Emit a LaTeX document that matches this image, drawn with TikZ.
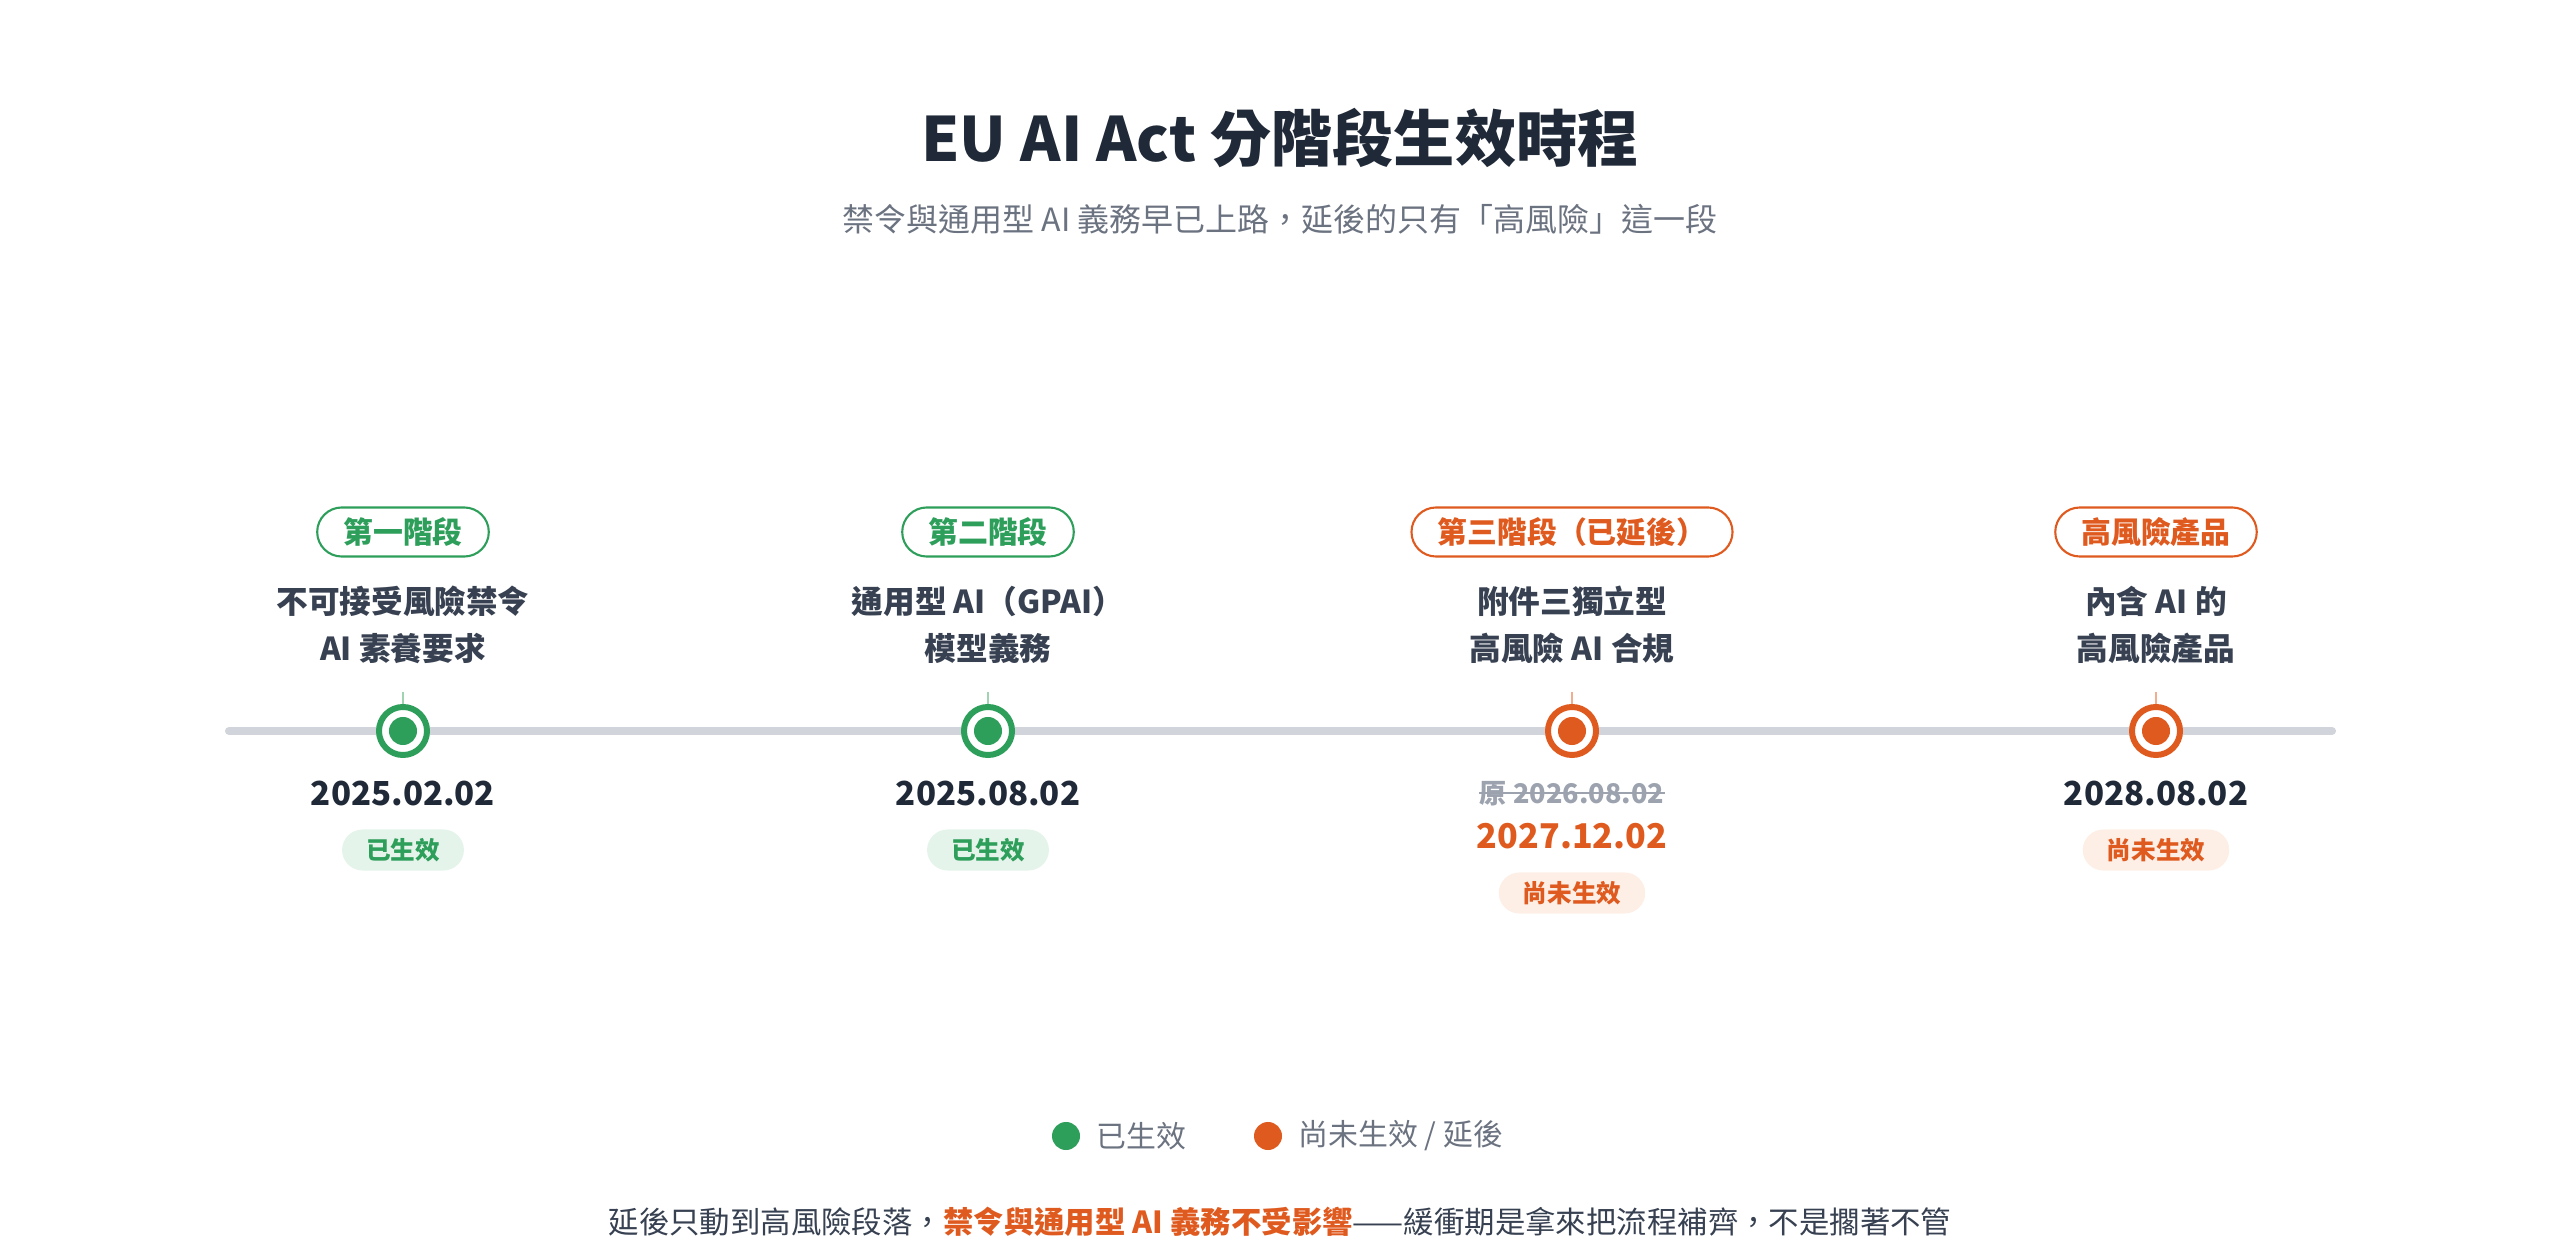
\documentclass[tikz,border=0pt]{standalone}
\usepackage{fontspec}
\setmainfont{Noto Sans CJK TC}
\usepackage{xcolor}

\definecolor{okgreen}{HTML}{2E9E5B}
\definecolor{okgreenlight}{HTML}{E4F4EA}
\definecolor{okgreentick}{HTML}{9FD3B2}
\definecolor{lateorange}{HTML}{DF5A1F}
\definecolor{lateorangelight}{HTML}{FDEFE6}
\definecolor{lateorangetick}{HTML}{F0AE8E}
\definecolor{inkdark}{HTML}{1F2937}
\definecolor{inkmid}{HTML}{374151}
\definecolor{inkgray}{HTML}{6B7280}
\definecolor{strikegray}{HTML}{9CA3AF}
\definecolor{trackgray}{HTML}{D1D5DB}

\tikzset{
  stagepill/.style={draw=#1, text=#1, line width=0.6pt, rounded corners=0.245cm,
    minimum height=0.49cm, inner xsep=0.26cm, inner ysep=0pt,
    font=\fontsize{8.5}{10}\selectfont\bfseries},
  statuspill/.style={fill=#1, rounded corners=0.205cm, minimum height=0.41cm,
    inner xsep=0.24cm, inner ysep=0pt, font=\fontsize{7}{8}\selectfont\bfseries},
  desctext/.style={text=inkmid, align=center, font=\fontsize{9}{13.4}\selectfont\bfseries},
  datetext/.style={text=inkdark, font=\fontsize{9.4}{12}\selectfont\bfseries},
  marker/.style={circle, draw=#1, fill=white, line width=1.7pt, minimum size=0.48cm, inner sep=0pt},
  markerdot/.style={circle, fill=#1, minimum size=0.28cm, inner sep=0pt},
}

\begin{document}
\begin{tikzpicture}[x=0.01cm, y=-0.01cm]

    \useasboundingbox (0,0) rectangle (2560,1258);

        % Title
        \node[text=inkdark, font=\fontsize{17.4}{21}\selectfont\bfseries] (title) at (1280,138) {EU AI Act 分階段生效時程};
        \node[text=inkgray, font=\fontsize{9.1}{11}\selectfont] (subtitle) at (1280,219) {禁令與通用型 AI 義務早已上路，延後的只有「高風險」這一段};

        % Track
        \coordinate (trackL) at (229,731);
        \coordinate (trackR) at (2332,731);
        \draw[trackgray, line width=2.3pt, line cap=round] (trackL) -- (trackR);

        % Stage 1
        \node[stagepill=okgreen] (stage1) at (403,532) {第一階段};
        \node[desctext] (desc1) at (403,625) {不可接受風險禁令\\AI 素養要求};
        \node[marker=okgreen] (mark1) at (403,731) {};
        \node[markerdot=okgreen] (dot1) at (mark1) {};
        \coordinate (tick1) at (403,692);
        \draw[okgreentick, line width=0.7pt] (mark1.north) -- (tick1);
        \node[datetext] (date1) at (403,793) {2025.02.02};
        \node[statuspill=okgreenlight, text=okgreen] (status1) at (403,850) {已生效};

        % Stage 2
        \node[stagepill=okgreen] (stage2) at (988,532) {第二階段};
        \node[desctext] (desc2) at (988,625) {通用型 AI（GPAI）\\模型義務};
        \node[marker=okgreen] (mark2) at (988,731) {};
        \node[markerdot=okgreen] (dot2) at (mark2) {};
        \coordinate (tick2) at (988,692);
        \draw[okgreentick, line width=0.7pt] (mark2.north) -- (tick2);
        \node[datetext] (date2) at (988,793) {2025.08.02};
        \node[statuspill=okgreenlight, text=okgreen] (status2) at (988,850) {已生效};

        % Stage 3 (postponed)
        \node[stagepill=lateorange] (stage3) at (1572,532) {第三階段（已延後）};
        \node[desctext] (desc3) at (1572,625) {附件三獨立型\\高風險 AI 合規};
        \node[marker=lateorange] (mark3) at (1572,731) {};
        \node[markerdot=lateorange] (dot3) at (mark3) {};
        \coordinate (tick3) at (1572,692);
        \draw[lateorangetick, line width=0.7pt] (mark3.north) -- (tick3);
        \node[text=strikegray, font=\fontsize{7.7}{10}\selectfont\bfseries, inner sep=0pt] (old3) at (1572,794) {原 2026.08.02};
        \draw[strikegray, line width=0.5pt] ([yshift=0.3pt]old3.west) -- ([yshift=0.3pt]old3.east);
        \node[datetext, text=lateorange, font=\fontsize{9.7}{12}\selectfont\bfseries] (date3) at (1572,836) {2027.12.02};
        \node[statuspill=lateorangelight, text=lateorange] (status3) at (1572,893) {尚未生效};

        % High-risk products
        \node[stagepill=lateorange] (stage4) at (2156,532) {高風險產品};
        \node[desctext] (desc4) at (2156,625) {內含 AI 的\\高風險產品};
        \node[marker=lateorange] (mark4) at (2156,731) {};
        \node[markerdot=lateorange] (dot4) at (mark4) {};
        \coordinate (tick4) at (2156,692);
        \draw[lateorangetick, line width=0.7pt] (mark4.north) -- (tick4);
        \node[datetext] (date4) at (2156,793) {2028.08.02};
        \node[statuspill=lateorangelight, text=lateorange] (status4) at (2156,850) {尚未生效};

        % Legend
        \node[circle, fill=okgreen, minimum size=0.28cm, inner sep=0pt] (keyok) at (1066,1136) {};
        \node[anchor=west, text=inkgray, font=\fontsize{8.5}{10}\selectfont] (keyoktext) at (1084,1136) {已生效};
        \node[circle, fill=lateorange, minimum size=0.28cm, inner sep=0pt] (keylate) at (1268,1136) {};
        \node[anchor=west, text=inkgray, font=\fontsize{8.5}{10}\selectfont] (keylatetext) at (1286,1136) {尚未生效 / 延後};

        % Footer note
        \node[text=inkmid, font=\fontsize{8.65}{10}\selectfont] (footer) at (1280,1222) {延後只動到高風險段落，{\color{lateorange}\bfseries 禁令與通用型 AI 義務不受影響}——緩衝期是拿來把流程補齊，不是擱著不管};

    \end{tikzpicture}
\end{document}
